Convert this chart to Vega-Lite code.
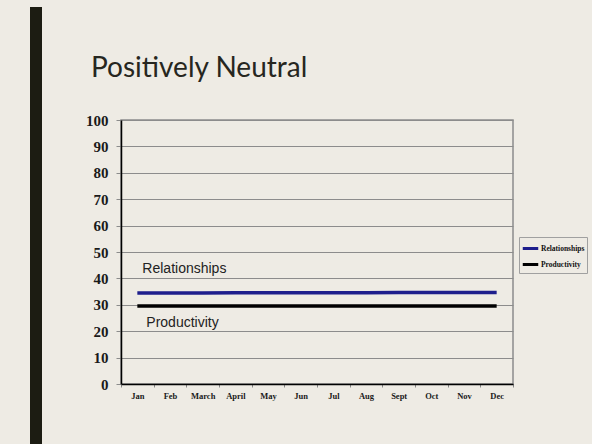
{
  "$schema": "https://vega.github.io/schema/vega-lite/v6.json",
  "background": "#EEEBE4",
  "padding": {"left": 30, "top": 4, "right": 10, "bottom": 5},
  "spacing": 42,
  "resolve": {"legend": {"color": "independent"}},
  "datasets": {
    "series": [
      {"month": "Jan", "value": 34.5, "series": "Relationships"},
      {"month": "Feb", "value": 34.5, "series": "Relationships"},
      {"month": "March", "value": 34.5, "series": "Relationships"},
      {"month": "April", "value": 34.6, "series": "Relationships"},
      {"month": "May", "value": 34.6, "series": "Relationships"},
      {"month": "Jun", "value": 34.6, "series": "Relationships"},
      {"month": "Jul", "value": 34.6, "series": "Relationships"},
      {"month": "Aug", "value": 34.6, "series": "Relationships"},
      {"month": "Sept", "value": 34.7, "series": "Relationships"},
      {"month": "Oct", "value": 34.7, "series": "Relationships"},
      {"month": "Nov", "value": 34.7, "series": "Relationships"},
      {"month": "Dec", "value": 34.7, "series": "Relationships"},
      {"month": "Jan", "value": 29.5, "series": "Productivity"},
      {"month": "Feb", "value": 29.5, "series": "Productivity"},
      {"month": "March", "value": 29.5, "series": "Productivity"},
      {"month": "April", "value": 29.5, "series": "Productivity"},
      {"month": "May", "value": 29.5, "series": "Productivity"},
      {"month": "Jun", "value": 29.5, "series": "Productivity"},
      {"month": "Jul", "value": 29.5, "series": "Productivity"},
      {"month": "Aug", "value": 29.5, "series": "Productivity"},
      {"month": "Sept", "value": 29.5, "series": "Productivity"},
      {"month": "Oct", "value": 29.5, "series": "Productivity"},
      {"month": "Nov", "value": 29.5, "series": "Productivity"},
      {"month": "Dec", "value": 29.5, "series": "Productivity"}
    ],
    "notes": [
      {"month": "Jan", "value": 43.4, "label": "Relationships"},
      {"month": "Jan", "value": 23.0, "label": "Productivity"}
    ]
  },
  "hconcat": [
    {
      "width": 12,
      "height": 440,
      "data": {"values": [{"a": 1}]},
      "mark": {"type": "point", "opacity": 0},
      "view": {"fill": "#1C1C12", "stroke": null}
    },
    {
      "spacing": 28,
      "resolve": {"legend": {"color": "independent"}},
      "vconcat": [
        {
          "width": 392,
          "height": 1,
          "data": {"values": [{"a": 1}]},
          "mark": {"type": "point", "opacity": 0},
          "view": {"stroke": null, "fill": null},
          "title": {
            "text": "Positively Neutral",
            "orient": "bottom",
            "anchor": "start",
            "frame": "group",
            "dx": -30,
            "font": "Lato",
            "fontSize": 28,
            "fontWeight": "normal",
            "color": "#262620",
            "baseline": "top",
            "offset": 45
          }
        },
        {
          "width": 392,
          "height": 264,
          "view": {"stroke": "#8C8C8C", "strokeWidth": 1.5, "fill": null},
          "encoding": {
            "x": {
              "field": "month",
              "type": "ordinal",
              "sort": ["Jan", "Feb", "March", "April", "May", "Jun", "Jul", "Aug", "Sept", "Oct", "Nov", "Dec"],
              "scale": {"type": "band", "paddingInner": 0, "paddingOuter": 0},
              "axis": {
                "title": null,
                "labelAngle": 0,
                "grid": false,
                "tickBand": "extent",
                "tickSize": 3,
                "tickColor": "#888888",
                "domainColor": "#000000",
                "domainWidth": 1.5,
                "labelFont": "Liberation Serif",
                "labelFontWeight": "bold",
                "labelFontSize": 8.5,
                "labelColor": "#1A1A1A",
                "labelPadding": 4
              }
            },
            "y": {
              "field": "value",
              "type": "quantitative",
              "scale": {"domain": [0, 100]},
              "axis": {
                "title": null,
                "values": [0, 10, 20, 30, 40, 50, 60, 70, 80, 90, 100],
                "grid": true,
                "gridColor": "#8C8C8C",
                "gridWidth": 1,
                "tickSize": 5,
                "tickColor": "#8C8C8C",
                "domainColor": "#000000",
                "domainWidth": 1.5,
                "labelFont": "Liberation Serif",
                "labelFontWeight": "bold",
                "labelFontSize": 15,
                "labelColor": "#1A1A1A",
                "labelPadding": 8
              }
            }
          },
          "layer": [
            {
              "data": {"name": "series"},
              "mark": {"type": "line", "strokeWidth": 3.5},
              "encoding": {
                "color": {
                  "field": "series",
                  "type": "nominal",
                  "scale": {"domain": ["Relationships", "Productivity"], "range": ["#1E1E8C", "#000000"]},
                  "legend": {
                    "title": null,
                    "orient": "none",
                    "legendX": 398,
                    "legendY": 117,
                    "symbolType": "stroke",
                    "symbolSize": 240,
                    "symbolStrokeWidth": 3,
                    "labelFont": "Liberation Serif",
                    "labelFontWeight": "bold",
                    "labelFontSize": 7.5,
                    "labelColor": "#111111",
                    "labelOffset": 1,
                    "rowPadding": -2,
                    "padding": 2,
                    "strokeColor": "#A0A0A0",
                    "fillColor": "#EEEBE4"
                  }
                }
              }
            },
            {
              "data": {"name": "notes"},
              "transform": [{"filter": "datum.label == 'Relationships'"}],
              "mark": {"type": "text", "align": "left", "baseline": "middle", "dx": 5, "font": "Liberation Sans", "fontSize": 14, "color": "#222222"},
              "encoding": {"text": {"field": "label"}}
            },
            {
              "data": {"name": "notes"},
              "transform": [{"filter": "datum.label == 'Productivity'"}],
              "mark": {"type": "text", "align": "left", "baseline": "middle", "dx": 9, "font": "Liberation Sans", "fontSize": 14, "color": "#222222"},
              "encoding": {"text": {"field": "label"}}
            }
          ]
        }
      ]
    }
  ]
}
